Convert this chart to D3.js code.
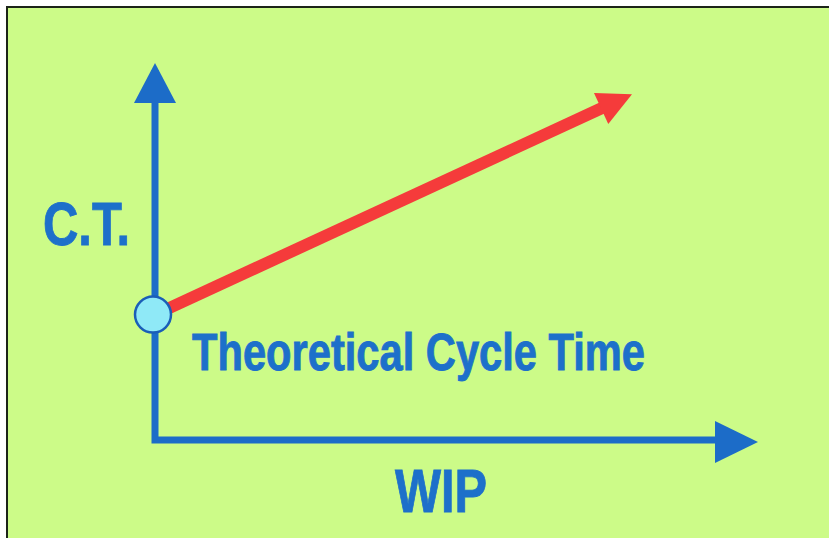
<!DOCTYPE html>
<html>
<head>
<meta charset="utf-8">
<script src="https://cdn.jsdelivr.net/npm/d3@7"></script>
<style>
    body { margin: 0; background: #fff; }
    text { font-family: "Liberation Sans", Arial, sans-serif; font-weight: bold; fill: #1d70ca; stroke: #1d70ca; stroke-width: 0.9px; }
</style>
</head>
<body>
<script>

    // conceptual chart: cycle time grows with WIP, starting at theoretical cycle time
    var wip = [0, 79.5];
    var cycleTime = [33, 91];
    var axisLabels = ["WIP", "C.T."];
    var pointLabel = "Theoretical Cycle Time";

    var width = 829, height = 538;

    var svg = d3.select("body").append("svg")
        .attr("width", width)
        .attr("height", height);

    // background panel with dark edge on the top and left
    svg.append("rect")
        .attr("x", 7).attr("y", 7)
        .attr("width", width).attr("height", height)
        .attr("fill", "#ccfb88")
        .attr("stroke", "#1c2418")
        .attr("stroke-width", 2);

    var x = d3.scaleLinear().domain([0, 100]).range([155, 755]);
    var y = d3.scaleLinear().domain([0, 100]).range([440, 60]);

    var blue = "#1c6cc8";

    function arrowHead(tip, dir, len, half, fill) {
        var ux = dir[0], uy = dir[1];
        var bx = tip[0] - ux * len, by = tip[1] - uy * len;
        var pts = [tip, [bx - uy * half, by + ux * half], [bx + uy * half, by - ux * half]];
        svg.append("path")
            .attr("d", "M" + pts.join("L") + "Z")
            .attr("fill", fill);
    }

    // axes
    svg.append("path")
        .attr("d", d3.line()([[x(0), y(100) + 10], [x(0), y(0)], [x(100) - 40, y(0)]]))
        .attr("fill", "none")
        .attr("stroke", blue)
        .attr("stroke-width", 7)
        .attr("stroke-linejoin", "miter");

    arrowHead([x(0), y(100) + 3], [0, -1], 40, 21, blue);
    arrowHead([x(100) + 3, y(0) + 2], [1, 0], 43, 21, blue);

    // red trend arrow
    var p0 = [x(wip[0]), y(cycleTime[0])];
    var p1 = [x(wip[1]), y(cycleTime[1])];
    var dx = p1[0] - p0[0], dy = p1[1] - p0[1];
    var len = Math.sqrt(dx * dx + dy * dy);
    var u = [dx / len, dy / len];

    svg.append("path")
        .attr("d", d3.line()([p0, [p1[0] - u[0] * 30, p1[1] - u[1] * 30]]))
        .attr("stroke", "#f53b3b")
        .attr("stroke-width", 12);

    arrowHead(p1, u, 34, 17, "#f53b3b");

    // theoretical cycle time point
    svg.append("circle")
        .attr("cx", x(wip[0]) - 2)
        .attr("cy", y(cycleTime[0]))
        .attr("r", 18)
        .attr("fill", "#8fe9f7")
        .attr("stroke", "#1a5eb8")
        .attr("stroke-width", 2.5);

    // labels
    svg.append("text")
        .attr("x", 441).attr("y", 512)
        .attr("text-anchor", "middle")
        .attr("font-size", 61)
        .attr("textLength", 92)
        .attr("lengthAdjust", "spacingAndGlyphs")
        .text(axisLabels[0]);

    svg.append("text")
        .attr("x", 43).attr("y", 245)
        .attr("font-size", 62)
        .attr("textLength", 87)
        .attr("lengthAdjust", "spacingAndGlyphs")
        .text(axisLabels[1]);

    svg.append("text")
        .attr("x", 192).attr("y", 370)
        .attr("font-size", 51)
        .attr("textLength", 453)
        .attr("lengthAdjust", "spacingAndGlyphs")
        .text(pointLabel);

</script>
</body>
</html>
